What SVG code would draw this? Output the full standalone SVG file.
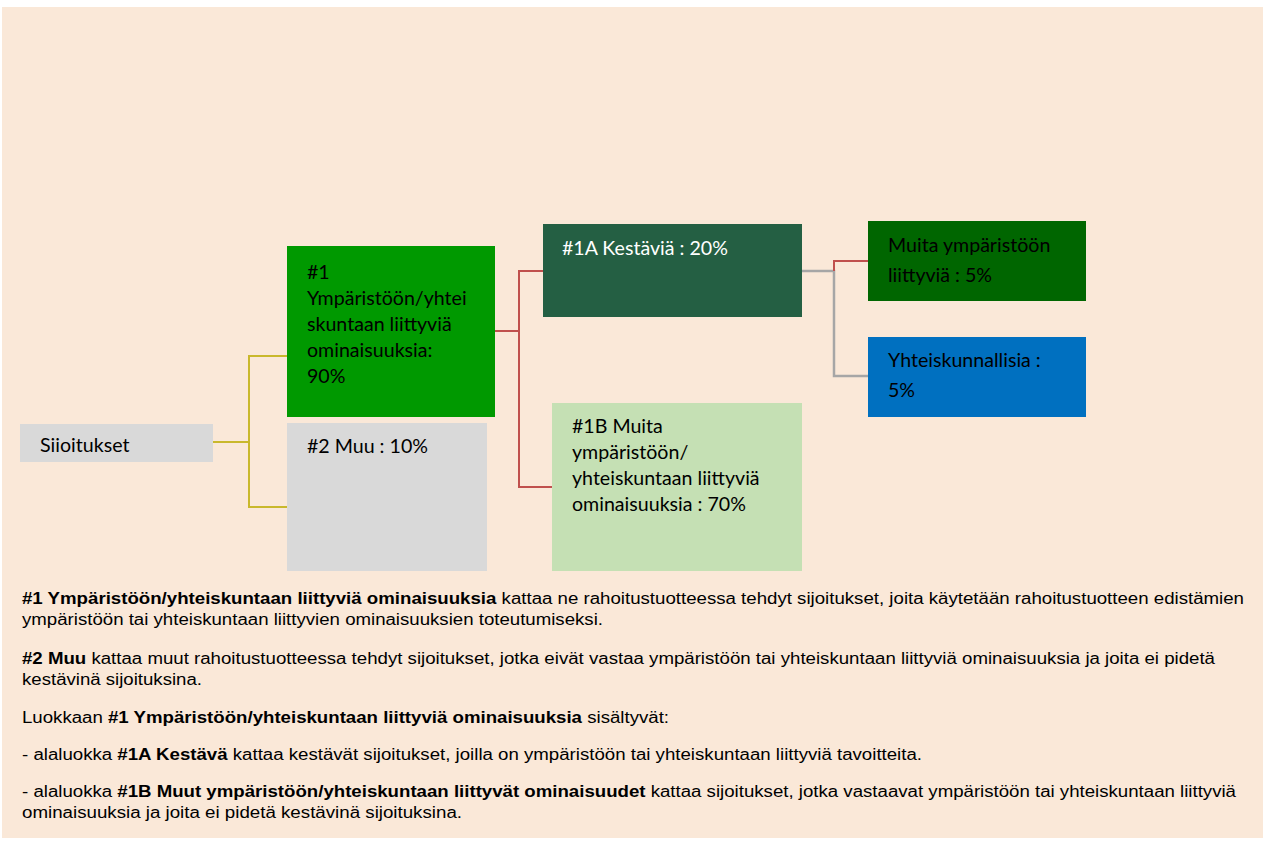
<svg xmlns="http://www.w3.org/2000/svg" width="1263" height="843" viewBox="0 0 1263 843">
<style>
.box{font-family:Lato,"Liberation Sans",sans-serif;font-size:19.6px;fill:#000}
.w{fill:#fff}
.body{font-family:"Liberation Sans",Arial,sans-serif;font-size:16px;fill:#000}
.b{font-weight:bold}
.yl{stroke:#C9B82C;stroke-width:2;fill:none}
.rd{stroke:#C0504D;stroke-width:2;fill:none}
.gy{stroke:#A6A6A6;stroke-width:2.5;fill:none}
</style>
<rect x="0" y="0" width="1263" height="843" fill="#ffffff"/>
<rect x="2" y="7" width="1261" height="831" fill="#FAE8D8"/>
<g id="connectors">
<polyline class="yl" points="213,442 249,442"/>
<polyline class="yl" points="287,356 249,356 249,507 287,507"/>
<polyline class="rd" points="495,331 519,331"/>
<polyline class="rd" points="543,271 519,271 519,487 552,487"/>
<polyline class="gy" points="802,271 834,271 834,376 868,376"/>
<polyline class="rd" points="834,271 834,261 868,261"/>
</g>
<g id="siioitukset">
<rect x="20" y="424" width="193" height="38" fill="#D9D9D9"/>
<text class="box" x="40" y="452">Siioitukset</text>
</g>
<g id="n1">
<rect x="287" y="246" width="208" height="171" fill="#009900"/>
<text class="box"><tspan x="307" y="279">#1</tspan><tspan x="307" y="305">Ympäristöön/yhtei</tspan><tspan x="307" y="331">skuntaan liittyviä</tspan><tspan x="307" y="357">ominaisuuksia:</tspan><tspan x="307" y="383">90%</tspan></text>
</g>
<g id="n2">
<rect x="287" y="423" width="200" height="148" fill="#D9D9D9"/>
<text class="box" x="307" y="453">#2 Muu : 10%</text>
</g>
<g id="n1a">
<rect x="543" y="224" width="259" height="93" fill="#245F43"/>
<text class="box w" x="562" y="255">#1A Kestäviä : 20%</text>
</g>
<g id="n1b">
<rect x="552" y="403" width="250" height="168" fill="#C5E0B4"/>
<text class="box"><tspan x="572" y="433">#1B Muita</tspan><tspan x="572" y="459">ympäristöön/</tspan><tspan x="572" y="485">yhteiskuntaan liittyviä</tspan><tspan x="572" y="511">ominaisuuksia : 70%</tspan></text>
</g>
<g id="muita">
<rect x="868" y="221" width="218" height="80" fill="#006600"/>
<text class="box"><tspan x="888" y="252">Muita ympäristöön</tspan><tspan x="888" y="282">liittyviä : 5%</tspan></text>
</g>
<g id="yhteis">
<rect x="868" y="337" width="218" height="80" fill="#0070C0"/>
<text class="box"><tspan x="888" y="367">Yhteiskunnallisia :</tspan><tspan x="888" y="397">5%</tspan></text>
</g>
<g id="legend" class="body">
<text x="22" y="604" textLength="1222" lengthAdjust="spacingAndGlyphs"><tspan class="b">#1 Ympäristöön/yhteiskuntaan liittyviä ominaisuuksia</tspan> kattaa ne rahoitustuotteessa tehdyt sijoitukset, joita käytetään rahoitustuotteen edistämien</text>
<text x="22" y="625" textLength="581" lengthAdjust="spacingAndGlyphs">ympäristöön tai yhteiskuntaan liittyvien ominaisuuksien toteutumiseksi.</text>
<text x="22" y="664" textLength="1193" lengthAdjust="spacingAndGlyphs"><tspan class="b">#2 Muu</tspan> kattaa muut rahoitustuotteessa tehdyt sijoitukset, jotka eivät vastaa ympäristöön tai yhteiskuntaan liittyviä ominaisuuksia ja joita ei pidetä</text>
<text x="22" y="685" textLength="180" lengthAdjust="spacingAndGlyphs">kestävinä sijoituksina.</text>
<text x="22" y="723" textLength="647" lengthAdjust="spacingAndGlyphs">Luokkaan <tspan class="b">#1 Ympäristöön/yhteiskuntaan liittyviä ominaisuuksia</tspan> sisältyvät:</text>
<text x="22" y="760" textLength="900" lengthAdjust="spacingAndGlyphs">- alaluokka <tspan class="b">#1A Kestävä</tspan> kattaa kestävät sijoitukset, joilla on ympäristöön tai yhteiskuntaan liittyviä tavoitteita.</text>
<text x="22" y="797" textLength="1214" lengthAdjust="spacingAndGlyphs">- alaluokka <tspan class="b">#1B Muut ympäristöön/yhteiskuntaan liittyvät ominaisuudet</tspan> kattaa sijoitukset, jotka vastaavat ympäristöön tai yhteiskuntaan liittyviä</text>
<text x="22" y="818" textLength="440" lengthAdjust="spacingAndGlyphs">ominaisuuksia ja joita ei pidetä kestävinä sijoituksina.</text>
</g>
</svg>
